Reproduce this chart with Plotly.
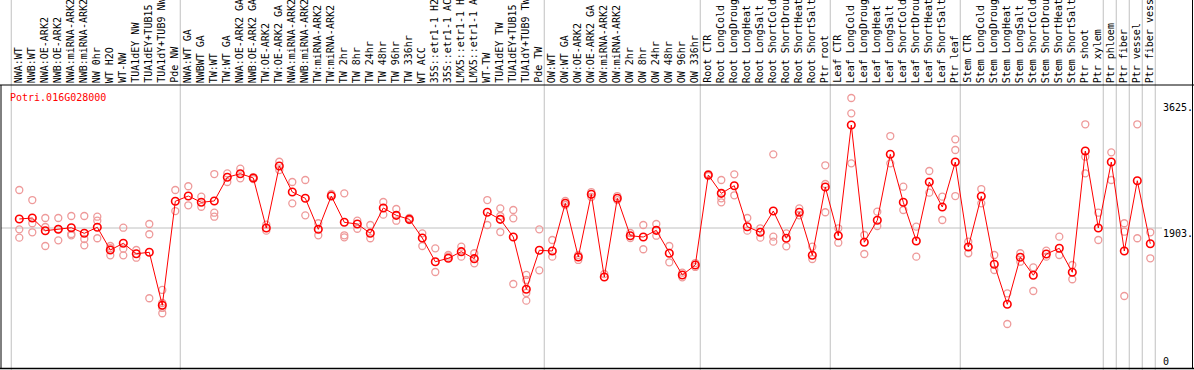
import plotly.graph_objects as go

categories = [
    "NWA:WT", "NWB:WT", "NWA:OE-ARK2", "NWB:OE-ARK2", "NWA:miRNA-ARK2", "NWB:miRNA-ARK2",
    "NW 0hr", "WT H2O", "WT-NW", "TUA1dEY NW", "TUA1dEY+TUB15 NW", "TUA1dY+TUB9 NW", "Pde NW",
    "NWA:WT GA", "NWBWT GA", "TW:WT", "TW:WT GA", "NWA:OE-ARK2 GA", "NWB:OE-ARK2 GA",
    "TW:OE-ARK2", "TW:OE-ARK2 GA", "NWA:miRNA-ARK2", "NWB:miRNA-ARK2", "TW:miRNA-ARK2",
    "TW:miRNA-ARK2", "TW 2hr", "TW 8hr", "TW 24hr", "TW 48hr", "TW 96hr", "TW 336hr",
    "WT ACC", "35S::etr1-1 H2O", "35S::etr1-1 ACC", "LMX5::etr1-1 H2O", "LMX5::etr1-1 ACC",
    "WT-TW", "TUA1dEY TW", "TUA1dEY+TUB15 TW", "TUA1dY+TUB9 TW", "Pde TW",
    "OW:WT", "OW:WT GA", "OW:OE-ARK2", "OW:OE-ARK2 GA", "OW:miRNA-ARK2", "OW:miRNA-ARK2",
    "OW 2hr", "OW 8hr", "OW 24hr", "OW 48hr", "OW 96hr", "OW 336hr",
    "Root CTR", "Root LongCold", "Root LongDrought", "Root LongHeat", "Root LongSalt",
    "Root ShortCold", "Root ShortDrought", "Root ShortHeat", "Root ShortSalt", "Ptr root",
    "Leaf CTR", "Leaf LongCold", "Leaf LongDrought", "Leaf LongHeat", "Leaf LongSalt",
    "Leaf ShortCold", "Leaf ShortDrought", "Leaf ShortHeat", "Leaf ShortSalt", "Ptr leaf",
    "Stem CTR", "Stem LongCold", "Stem LongDrought", "Stem LongHeat", "Stem LongSalt",
    "Stem ShortCold", "Stem ShortDrought", "Stem ShortHeat", "Stem ShortSalt", "Ptr shoot",
    "Ptr xylem", "Ptr phloem", "Ptr fiber", "Ptr vessel", "Ptr fiber vessel",
]

means = [
    2027, 2040, 1866, 1885, 1907, 1830, 1913, 1601, 1693, 1550, 1569, 842, 2270,
    2342, 2256, 2274, 2599, 2649, 2590, 1903, 2754, 2397, 2311, 1885, 2342,
    1981, 1958, 1830, 2178, 2077, 2022, 1766, 1440, 1487, 1578, 1482,
    2119, 2022, 1779, 1061, 1597,
    1587, 2242, 1505, 2366, 1230, 2311, 1797, 1779, 1871, 1556, 1258, 1395,
    2631, 2379, 2484, 1921, 1844, 2136, 1762, 2119, 1528, 2466,
    1797, 3317, 1707, 2009, 2915, 2256, 1725, 2535, 2191, 2809,
    1642, 2338, 1405, 855, 1501, 1254, 1546, 1624, 1295, 2960,
    1903, 2809, 1587, 2552, 1687,
]

replicates = [
    [2425, 1885, 1770], [2287, 1968, 1844], [2040, 1917, 1656], [2040, 1734, 1889],
    [2068, 1821, 1803], [2068, 1752, 1665], [2058, 2003, 1762], [1656, 1528, 1628],
    [1907, 1619, 1528], [1601, 1495], [1958, 1817, 938], [1052, 873, 805, 732],
    [2425, 2136], [2476, 2215], [2333, 2195], [2644, 2113, 2058], [2654, 2535],
    [2717, 2585], [2603, 2576], [1948, 1866], [2813, 2699], [2535, 2242],
    [2562, 2077], [1968, 1803], [2370, 2356], [2379, 1803, 1775], [2003, 1893],
    [1944, 1762], [2260, 2086], [2164, 2003], [2040, 2013], [1830, 1656],
    [1624, 1299], [1532, 1509], [1646, 1509], [1556, 1418], [2287, 1944],
    [2173, 2068, 1848], [2150, 2036, 1134], [1258, 1189, 1011, 905], [1885, 1322],
    [1738, 1509], [2274, 2219], [1532, 1464], [2329, 2397], [1271], [2342, 2287],
    [1834, 1766], [1944, 1611], [1958, 1797], [1656, 1432], [1289, 1226], [1422, 1368],
    [2644, 2617], [2562, 2311, 2256], [2640, 2352], [2040, 1866], [1899, 1770],
    [2915, 1784, 1715], [1830, 1652], [2173, 2077], [1646, 1477], [2764, 2507, 2119],
    [1899, 1701], [3688, 3478, 2791], [1807, 1546], [2127, 1930], [3166, 2791],
    [2470, 2150], [1921, 1509], [2686, 2388], [2333, 2013], [3121, 2974, 2342],
    [1715, 1556], [2438, 2242], [1532, 1326], [1006, 585], [1556, 1440], [1363, 1038],
    [1591, 1509], [1784, 1532], [1395, 1199], [3327, 2882, 2654], [2113, 1738],
    [2942, 2562], [1968, 1852, 969], [3327, 1762], [1844, 1487],
]

axis_ticks = [3625, 1903, 0]
axis_ticktext = ["3625.", "1903.", "0"]
group_ends = [-1, 12, 40, 52, 62, 72, 83, 84, 85, 86, 87]
gene_id = "Potri.016G028000"

W, H = 1194, 370
FONT = "DejaVu Sans Mono"
x_idx = list(range(len(categories)))

rx, ry = [], []
for i, reps in enumerate(replicates):
    for v in reps:
        rx.append(i)
        ry.append(v)

fig = go.Figure()
fig.add_trace(go.Scatter(
    x=rx, y=ry, mode="markers", hoverinfo="skip",
    marker=dict(symbol="circle-open", size=7, color="#EE9A9A", line=dict(width=1.3, color="#EE9A9A")),
))
fig.add_trace(go.Scatter(
    x=x_idx, y=means, mode="lines+markers",
    line=dict(color="#FF0000", width=1),
    marker=dict(symbol="circle-open", size=7.5, color="#FF0000", line=dict(width=1.6, color="#FF0000")),
))

shapes = []
for g in group_ends:
    shapes.append(dict(type="line", xref="x", yref="paper", x0=g + 0.38, x1=g + 0.38,
                       y0=0, y1=1, line=dict(color="#C0C0C0", width=1), layer="below"))
shapes.append(dict(type="line", xref="paper", yref="y", x0=1 / W, x1=1162 / W,
                   y0=axis_ticks[1], y1=axis_ticks[1], line=dict(color="#C0C0C0", width=1), layer="below"))
top_y = 1 - 85 / H
bot_y = 1 - 368.5 / H
shapes.append(dict(type="line", xref="paper", yref="paper", x0=0, x1=1, y0=top_y, y1=top_y,
                   line=dict(color="black", width=1)))
shapes.append(dict(type="line", xref="paper", yref="paper", x0=0, x1=1, y0=bot_y, y1=bot_y,
                   line=dict(color="black", width=1.5)))
shapes.append(dict(type="line", xref="paper", yref="paper", x0=1 / W, x1=1 / W, y0=bot_y, y1=top_y,
                   line=dict(color="black", width=1)))
shapes.append(dict(type="line", xref="paper", yref="paper", x0=1192.5 / W, x1=1192.5 / W, y0=bot_y, y1=1,
                   line=dict(color="black", width=1)))

annotations = []
for i, c in enumerate(categories):
    annotations.append(dict(x=i, xref="x", y=1 - 84 / H, yref="paper", text=c, textangle=-90,
                            showarrow=False, xanchor="center", yanchor="bottom", xshift=-1,
                            borderpad=0, font=dict(family=FONT, size=10, color="black")))
annotations.append(dict(x=9 / W, xref="paper", y=1 - 97 / H, yref="paper", text=gene_id,
                        showarrow=False, xanchor="left", yanchor="middle", borderpad=0,
                        font=dict(family=FONT, size=10, color="#FF0000")))
for v, t in zip(axis_ticks, axis_ticktext):
    annotations.append(dict(x=1162 / W, xref="paper", y=v, yref="y", text=t, showarrow=False,
                            xanchor="left", yanchor="middle", yshift=-5 if v > 0 else 5, borderpad=0,
                            font=dict(family=FONT, size=10, color="black")))

fig.update_layout(
    width=W, height=H, margin=dict(l=0, r=0, t=0, b=0),
    paper_bgcolor="white", plot_bgcolor="white", showlegend=False,
    xaxis=dict(range=[-19.3 / 13, (W - 19.3) / 13], visible=False, fixedrange=True),
    yaxis=dict(range=[-47, 5034], visible=False, fixedrange=True),
    shapes=shapes, annotations=annotations,
)
fig.write_html("out.html", config={"displayModeBar": False},
               post_script="document.body.style.margin='0';document.body.style.overflow='hidden';")
